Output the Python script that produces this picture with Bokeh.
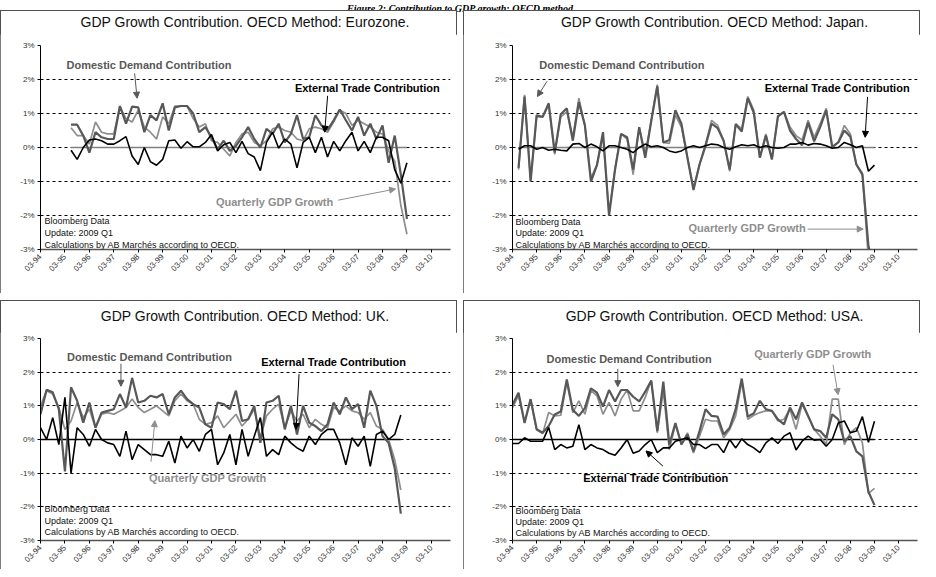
import math
import pandas as pd
from bokeh.plotting import figure
from bokeh.models import Range1d, FixedTicker, Label, Arrow, NormalHead, Div, Spacer
from bokeh.layouts import column, row
from bokeh.embed import file_html
from bokeh.resources import INLINE

# ---------------- data ----------------
tick_labels = ["03-94", "03-95", "03-96", "03-97", "03-98", "03-99", "03-00", "03-01",
               "03-02", "03-03", "03-04", "03-05", "03-06", "03-07", "03-08", "03-09", "03-10"]
y_ticks = [-3, -2, -1, 0, 1, 2, 3]
y_tick_labels = ["-3%", "-2%", "-1%", "0%", "1%", "2%", "3%"]

ez_start, ez_end = "1995Q2", "2009Q1"
ez_domestic = [0.67, 0.67, 0.35, -0.15, 0.45, 0.3, 0.25, 0.25, 1.22, 0.7, 1.2, 1.18, 0.45, 0.95, 0.8, 1.3,
               0.5, 1.18, 1.22, 1.22, 1.0, 0.45, 0.6, 0.3, -0.05, 0.2, -0.1, 0.05, 0.3, 0.6, 0.25, 0.0,
               0.55, 0.4, 0.7, 0.15, 0.4, 0.95, 0.25, 0.3, 0.95, 0.65, 0.52, 0.8, 1.12, 0.8, 0.5, 0.9,
               0.35, 0.7, 0.25, 0.65, -0.45, 0.35, -0.8, -2.1]
ez_gdp = [0.58, 0.35, 0.35, 0.1, 0.75, 0.45, 0.4, 0.4, 1.2, 0.85, 0.75, 1.1, 0.6, 0.45, 0.25, 0.9,
          0.7, 1.22, 1.22, 1.22, 0.85, 0.6, 0.7, 0.2, 0.15, -0.05, -0.25, 0.15, 0.4, 0.45, 0.15, 0.05,
          0.2, 0.55, 0.6, 0.5, 0.45, 0.25, 0.2, 0.55, 0.6, 0.55, 0.45, 0.75, 1.1, 1.0, 0.65, 0.8,
          0.7, 0.6, 0.45, 0.4, -0.1, -0.4, -1.7, -2.55]
ez_external = [-0.08, -0.35, 0.0, 0.22, 0.25, 0.2, 0.1, 0.1, 0.2, 0.32, -0.25, -0.5, 0.0, -0.42, -0.52, -0.35,
               0.2, 0.22, -0.02, 0.17, 0.02, 0.02, 0.15, 0.38, -0.1, 0.08, 0.15, -0.15, 0.18, -0.18, -0.28, -0.68,
               0.15, 0.45, -0.02, 0.25, 0.1, -0.6, 0.15, 0.3, -0.15, 0.3, -0.28, 0.18, -0.1, 0.2, 0.45, -0.1,
               0.18, -0.15, 0.3, 0.3, 0.2, -0.65, -1.05, -0.45]

jp_start, jp_end = "1994Q2", "2009Q1"
jp_domestic = [-0.6, 1.5, -1.0, 0.95, 0.9, 1.3, -0.15, 0.98, 1.15, 0.2, 1.33, 0.65, -1.0, -0.52, 0.45, -2.0,
               -0.65, 0.4, 0.3, -0.65, 0.6, -0.3, 0.78, 1.8, 0.15, 0.22, 1.1, 0.7, -0.3, -1.25, -0.5, 0.05,
               0.7, 0.57, 0.2, -0.65, 0.68, 0.47, 1.45, 1.02, -0.3, 0.35, -0.35, 0.92, 1.05, 0.5, 0.25, 0.07,
               0.73, 0.18, 0.6, 1.1, 0.02, 0.15, 0.5, 0.32, -0.5, -0.8, -2.9, -3.5]
jp_gdp = [-0.65, 1.55, -0.95, 0.9, 0.9, 1.25, -0.2, 0.9, 1.05, 0.3, 1.45, 0.65, -0.9, -0.5, 0.35, -1.95,
          -0.6, 0.4, 0.25, -0.8, 0.6, -0.2, 0.8, 1.85, 0.15, 0.12, 0.95, 0.6, -0.3, -1.2, -0.5, 0.1,
          0.8, 0.65, 0.2, -0.7, 0.7, 0.55, 1.5, 1.1, -0.3, 0.4, -0.35, 0.9, 1.05, 0.6, 0.35, 0.22,
          0.8, 0.3, 0.7, 1.15, 0.0, 0.15, 0.65, 0.4, -0.5, -0.75, -3.3, -4.0]
jp_external = [-0.05, 0.05, 0.05, -0.05, 0.0, -0.08, -0.05, -0.08, -0.1, 0.1, 0.12, 0.0, 0.1, 0.02, -0.1, 0.05,
               0.05, 0.0, -0.05, -0.15, 0.0, 0.1, 0.02, 0.05, 0.0, -0.1, -0.15, -0.1, 0.0, 0.05, 0.0, 0.05,
               0.1, 0.08, 0.0, -0.05, 0.02, 0.08, 0.05, 0.08, 0.0, 0.05, 0.0, -0.02, 0.0, 0.1, 0.1, 0.15,
               0.07, 0.12, 0.1, 0.05, -0.02, 0.0, 0.15, 0.08, 0.0, 0.05, -0.7, -0.52]

uk_start, uk_end = "1994Q1", "2008Q4"
uk_domestic = [0.75, 1.48, 1.4, 0.9, -0.95, 1.55, 1.15, 0.5, 1.1, 0.35, 0.8, 0.85, 0.9, 1.35, 0.95, 1.83,
               1.1, 1.15, 1.3, 1.25, 1.35, 0.75, 1.25, 1.45, 1.2, 1.05, 0.95, 0.45, 0.35, 1.1, 1.05, 0.9,
               1.45, 0.55, 0.6, 1.0, -0.1, 1.1, 1.15, 1.3, 0.3, 1.0, 0.15, 1.0, 0.5, 0.4, 0.25, 0.45,
               1.1, 0.75, 1.25, 0.9, 1.05, 0.35, 1.45, 1.0, 0.1, -0.1, -0.85, -2.2]
uk_gdp = [1.0, 1.45, 1.35, 0.95, 0.3, 0.55, 1.1, 0.65, 0.9, 0.35, 0.75, 0.8, 0.75, 0.85, 0.95, 1.2,
          0.95, 0.8, 0.9, 1.0, 0.85, 0.7, 1.15, 1.35, 1.15, 1.05, 0.6, 0.45, 0.5, 0.7, 0.35, 0.55,
          0.75, 0.4, 0.6, 0.9, 0.05, 0.7, 0.9, 1.05, 0.35, 0.85, 0.55, 0.75, 0.35, 0.6, 0.45, 0.35,
          0.95, 0.85, 1.0, 0.85, 0.8, 0.6, 0.8, 0.4, 0.3, 0.0, -0.6, -1.5]
uk_external = [0.35, 0.0, 0.65, -0.15, 1.25, -1.0, 0.35, 0.15, -0.2, 0.3, 0.0, -0.1, -0.15, -0.5, 0.25, -0.6,
               -0.15, -0.3, -0.45, -0.45, -0.5, -0.05, -0.7, 0.1, -0.25, 0.0, -0.35, 0.15, 0.3, -0.75, -0.4, 0.15,
               -0.75, 0.3, -0.5, 0.1, 0.65, -0.5, -0.3, -0.45, 0.1, -0.1, -0.25, -0.35, 0.1, -0.15, 0.15, 0.3,
               0.3, -0.1, -0.75, 0.05, -0.2, 0.1, -0.8, 0.15, 0.25, 0.0, 0.15, 0.73]

us_start, us_end = "1994Q1", "2009Q1"
us_domestic = [1.03, 1.39, 0.49, 1.2, 0.31, 0.2, 0.4, 0.74, 0.83, 1.78, 0.88, 0.7, 0.93, 1.52, 1.39, 0.98,
               1.47, 1.13, 1.47, 1.47, 1.27, 1.13, 1.42, 1.75, 0.25, 1.72, -0.15, 0.49, -0.15, 0.15, -0.35, 0.25,
               0.9, 0.7, 0.68, 0.15, 0.35, 0.9, 1.81, 0.68, 0.78, 1.15, 0.9, 0.85, 0.6, 0.45, 0.95, 0.6,
               1.1, 0.7, 0.3, 0.25, 0.05, 0.75, 0.6, -0.05, 0.1, -0.35, -0.5, -1.55, -1.95]
us_gdp = [0.95, 1.3, 0.52, 1.18, 0.28, 0.18, 0.8, 0.7, 0.72, 1.7, 0.8, 1.15, 0.75, 1.45, 1.3, 0.75,
          1.1, 0.7, 1.2, 1.47, 0.85, 0.85, 1.25, 1.75, 0.2, 1.45, -0.3, 0.45, -0.15, 0.2, -0.4, 0.1,
          0.6, 0.55, 0.55, 0.05, 0.3, 0.7, 1.72, 0.6, 0.72, 0.8, 0.85, 0.85, 0.55, 0.6, 0.9, 0.3,
          1.05, 0.7, 0.3, 0.1, -0.15, 1.2, 1.2, -0.15, 0.2, 0.35, -0.1, -1.6, -1.45]
us_external = [-0.12, -0.12, 0.05, -0.05, -0.05, -0.05, 0.36, -0.3, -0.15, -0.25, -0.2, 0.44, -0.3, -0.15, -0.25, -0.3,
               -0.41, -0.47, -0.25, 0.0, -0.41, -0.34, -0.15, 0.0, -0.39, -0.25, -0.25, -0.05, 0.0, 0.05, -0.15, -0.15,
               -0.27, -0.15, -0.15, -0.39, 0.0, -0.25, 0.02, -0.15, -0.25, -0.39, -0.1, 0.05, -0.12, 0.1, 0.2, -0.31,
               -0.05, 0.1, -0.02, 0.0, -0.2, 0.0, 0.49, 0.55, 0.2, 0.25, 0.68, -0.08, 0.54]

# ---------------- styling ----------------
DD_C = "#585858"
GDP_C = "#8e8e8e"
ET_C = "#000000"
FONT = "Liberation Sans"
DD_TXT = "Domestic Demand Contribution"
ET_TXT = "External Trade Contribution"
QG_TXT = "Quarterly GDP Growth"
NOTES = ["Bloomberg Data", "Update: 2009 Q1", "Calculations by AB March\u00e9s according to OECD."]
X_SPAN = 201.4
PANEL_W = 457


def qmonth(q):
    return (q.year - 1994) * 12 + q.quarter * 3 - 1


def lbl_month(lbl):
    yy = int(lbl[3:])
    year = 1900 + yy if yy > 50 else 2000 + yy
    return (year - 1994) * 12 + int(lbl[:2]) - 1


def m(yr):
    return (yr - 1994) * 12


tick_pos = [lbl_month(t) for t in tick_labels]


def panel(name, start, end, dom, gdp, ext, zero_color, height, title_h, top, bottom, left, right,
          labels, arrows, notes_x, notes_y):
    xs = [qmonth(q) for q in pd.period_range(start, end, freq="Q")]
    x0, x1 = tick_pos[0], tick_pos[0] + X_SPAN
    p = figure(width=PANEL_W, height=height - title_h, output_backend="svg", toolbar_location=None,
               x_range=Range1d(x0, x1), y_range=Range1d(-3, 3),
               min_border_left=left, min_border_right=right, min_border_top=top, min_border_bottom=bottom)
    p.outline_line_color = None
    p.background_fill_color = "white"
    p.border_fill_color = "white"

    p.xgrid.grid_line_color = None
    p.ygrid.ticker = FixedTicker(ticks=y_ticks)
    p.ygrid.grid_line_color = "#000000"
    p.ygrid.grid_line_dash = "3 3"
    p.ygrid.grid_line_width = 1

    p.yaxis.ticker = FixedTicker(ticks=y_ticks)
    p.yaxis.major_label_overrides = dict(zip(y_ticks, y_tick_labels))
    p.yaxis.axis_line_color = "#000000"
    p.yaxis.major_tick_in = 0
    p.yaxis.major_tick_out = 3
    p.yaxis.minor_tick_line_color = None
    p.yaxis.major_label_text_font = FONT
    p.yaxis.major_label_text_font_size = "8px"
    p.yaxis.major_label_text_color = "#333333"
    p.yaxis.major_label_standoff = 3

    p.xaxis.ticker = FixedTicker(ticks=tick_pos)
    p.xaxis.major_label_overrides = dict(zip(tick_pos, tick_labels))
    p.xaxis.major_label_orientation = math.pi / 4
    p.xaxis.axis_line_color = "#555555"
    p.xaxis.axis_line_width = 1.5
    p.xaxis.major_tick_in = 0
    p.xaxis.major_tick_out = 3
    p.xaxis.minor_tick_line_color = None
    p.xaxis.major_label_text_font = FONT
    p.xaxis.major_label_text_font_size = "8px"
    p.xaxis.major_label_text_color = "#333333"
    p.xaxis.major_label_standoff = 3

    p.segment(x0=[xs[0]], y0=[0], x1=[xs[-1]], y1=[0], line_color=zero_color, line_width=1.5)
    p.line(xs, gdp, line_color=GDP_C, line_width=1.7)
    p.line(xs, dom, line_color=DD_C, line_width=2.2)
    p.line(xs, ext, line_color=ET_C, line_width=1.6)

    for text, xy, yv, col in labels:
        p.add_layout(Label(x=m(xy), y=yv, text=text, text_color=col, text_font=FONT,
                           text_font_size="11px", text_font_style="bold", text_baseline="middle"))
    for xa, ya, xb, yb, col in arrows:
        p.add_layout(Arrow(end=NormalHead(size=6, fill_color=col, line_color=col, line_width=1),
                           x_start=m(xa), y_start=ya, x_end=m(xb), y_end=yb,
                           line_color=col, line_width=1))
    for text, yv in zip(NOTES, notes_y):
        p.add_layout(Label(x=m(notes_x), y=yv, text=text, text_color="#111111", text_font=FONT,
                           text_font_size="9px", text_baseline="middle"))

    pad = 2 * ((left + PANEL_W - right) / 2 - PANEL_W / 2)
    title = Div(text=('<div style="box-sizing:border-box;width:%dpx;padding-left:%dpx;text-align:center;'
                      'white-space:nowrap;line-height:%dpx;font-family:\'Liberation Sans\',sans-serif;'
                      'font-size:14px;color:#111;">GDP Growth Contribution. OECD Method: %s.</div>')
                % (PANEL_W, pad, title_h, name),
                width=PANEL_W, height=title_h, margin=(0, 0, 0, 0))
    return column(title, p, spacing=0, width=PANEL_W, height=height, margin=(0, 0, 0, 0),
                  styles={"outline": "1px solid #505050", "outline-offset": "-1px", "background": "white"})


TOP_H, BOT_H = 283, 269

p_ez = panel("Eurozone", ez_start, ez_end, ez_domestic, ez_gdp, ez_external, "#808080",
             TOP_H, 24, 11, 44, 40, 7,
             [(DD_TXT, 1995.23, 2.42, DD_C), (ET_TXT, 2004.58, 1.76, ET_C), (QG_TXT, 2001.35, -1.6, GDP_C)],
             [(1998.02, 2.18, 1998.12, 1.45, DD_C), (2005.92, 1.52, 2005.8, 0.45, ET_C),
              (2006.35, -1.55, 2008.7, -1.22, GDP_C)],
             1994.33, [-2.17, -2.5, -2.86])

p_jp = panel("Japan", jp_start, jp_end, jp_domestic, jp_gdp, jp_external, "#808080",
             TOP_H, 24, 11, 44, 49, 3,
             [(DD_TXT, 1995.28, 2.42, DD_C), (ET_TXT, 2004.62, 1.76, ET_C), (QG_TXT, 2001.46, -2.38, GDP_C)],
             [(1995.6, 1.95, 1995.2, 1.5, DD_C), (2008.88, 1.49, 2008.78, 0.3, ET_C),
              (2006.4, -2.4, 2008.7, -2.4, GDP_C)],
             1994.29, [-2.18, -2.5, -2.86])

p_uk = panel("UK", uk_start, uk_end, uk_domestic, uk_gdp, uk_external, "#000000",
             BOT_H, 32, 6, 29, 40, 7,
             [(DD_TXT, 1995.25, 2.46, DD_C), (ET_TXT, 2003.2, 2.29, ET_C), (QG_TXT, 1998.61, -1.13, GDP_C)],
             [(1997.46, 2.25, 1997.46, 1.58, DD_C), (2004.75, 1.94, 2004.63, 0.3, ET_C),
              (1998.69, -0.66, 1998.85, 0.56, GDP_C)],
             1994.33, [-2.06, -2.41, -2.74])

p_us = panel("USA", us_start, us_end, us_domestic, us_gdp, us_external, "#000000",
             BOT_H, 32, 6, 29, 49, 3,
             [(DD_TXT, 1995.58, 2.39, DD_C), (QG_TXT, 2004.18, 2.54, GDP_C), (ET_TXT, 1997.1, -1.14, ET_C)],
             [(1998.53, 2.1, 1998.53, 1.57, DD_C), (2007.45, 2.22, 2007.66, 1.33, GDP_C),
              (2000.4, -0.79, 1999.7, -0.34, ET_C)],
             1994.29, [-2.11, -2.46, -2.79])

header = Div(text=('<div style="text-align:center;width:920px;white-space:nowrap;line-height:10px;'
                   'font-family:\'Liberation Serif\',serif;font-style:italic;font-weight:bold;font-size:10px;">'
                   'Figure 2: Contribution to GDP growth: OECD method</div>'),
             width=920, height=10, margin=(0, 0, 0, 0))

row1 = row(p_ez, Spacer(width=6, height=TOP_H), p_jp, spacing=0, margin=(0, 0, 0, 0))
row2 = row(p_uk, Spacer(width=6, height=BOT_H), p_us, spacing=0, margin=(0, 0, 0, 0))
layout = column(header, row1, Spacer(width=920, height=7), row2, spacing=0, margin=(0, 0, 0, 0))

open("out.html", "w").write(file_html(layout, INLINE))
